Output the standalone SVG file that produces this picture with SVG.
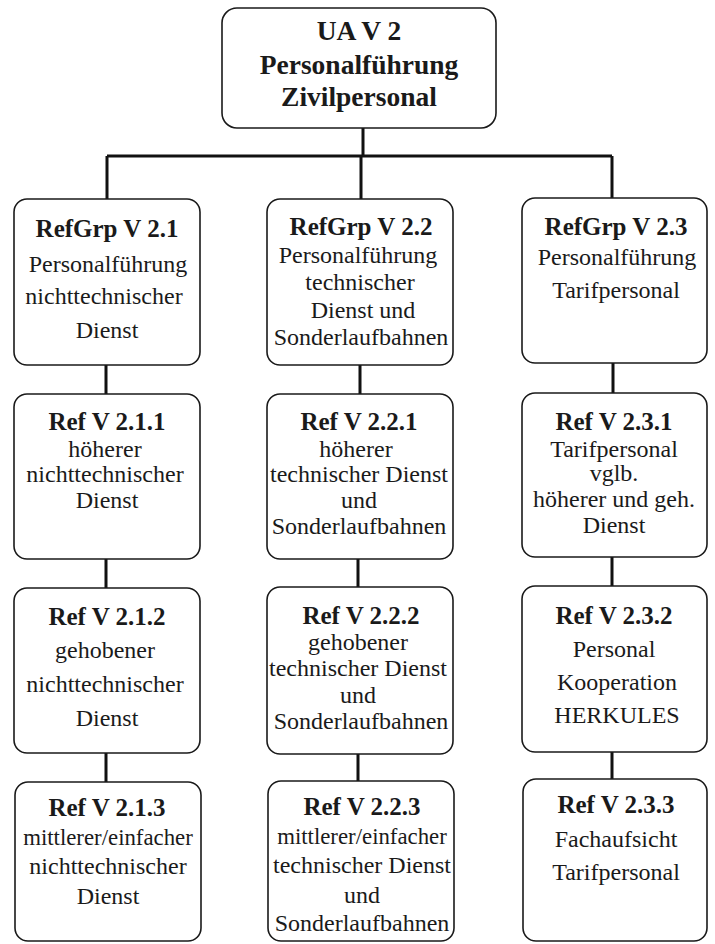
<svg xmlns="http://www.w3.org/2000/svg" width="715" height="944" viewBox="0 0 715 944">
  <style>
    .box { fill: #ffffff; stroke: #1a1a1a; stroke-width: 1.6; }
    .conn { fill: none; stroke: #111111; stroke-width: 3; }
    text { fill: #1a1a1a; text-anchor: middle; }
    .t { font-size: 24px; }
    .n { font-size: 22.8px; }
    .h { font-size: 25px; font-weight: bold; }
    .top { font-size: 27.5px; font-weight: bold; }
  </style>
  <rect width="715" height="944" fill="#ffffff"/>

  <!-- connectors -->
  <g id="connectors">
    <path class="conn" d="M363 128 V156 M107 156 H612 M107 156 V199 M361 156 V199 M612 156 V198"/>
    <path class="conn" d="M106 365 V394 M106 559 V588 M106 753 V782"/>
    <path class="conn" d="M360 365 V394 M358 559 V587 M358 754 V781"/>
    <path class="conn" d="M613 363 V393 M612 557 V586 M612 752 V779"/>
  </g>

  <g id="nodes" font-family="Liberation Serif, Times New Roman, serif">
    <!-- root -->
    <g id="uav2">
      <rect class="box" x="222" y="8" width="274" height="120" rx="15"/>
      <text class="top" x="359" y="40">UA V 2</text>
      <text class="top" x="359" y="74">Personalführung</text>
      <text class="top" x="359" y="106">Zivilpersonal</text>
    </g>

    <!-- column 1 -->
    <g id="refgrp21">
      <rect class="box" x="14" y="199" width="186" height="166" rx="13"/>
      <text class="h" x="107" y="237">RefGrp V 2.1</text>
      <text class="t" x="108" y="272">Personalführung</text>
      <text class="t" x="104" y="304">nichttechnischer</text>
      <text class="t" x="107" y="338">Dienst</text>
    </g>
    <g id="ref211">
      <rect class="box" x="14" y="394" width="186" height="165" rx="13"/>
      <text class="h" x="107" y="430">Ref V 2.1.1</text>
      <text class="t" x="105" y="457">höherer</text>
      <text class="t" x="105" y="482">nichttechnischer</text>
      <text class="t" x="107" y="508">Dienst</text>
    </g>
    <g id="ref212">
      <rect class="box" x="14" y="588" width="186" height="165" rx="13"/>
      <text class="h" x="107" y="625">Ref V 2.1.2</text>
      <text class="t" x="105" y="658">gehobener</text>
      <text class="t" x="105" y="692">nichttechnischer</text>
      <text class="t" x="107" y="726">Dienst</text>
    </g>
    <g id="ref213">
      <rect class="box" x="15" y="782" width="186" height="159" rx="13"/>
      <text class="h" x="107" y="816">Ref V 2.1.3</text>
      <text class="n" x="108" y="845">mittlerer/einfacher</text>
      <text class="t" x="108" y="874">nichttechnischer</text>
      <text class="t" x="108" y="904">Dienst</text>
    </g>

    <!-- column 2 -->
    <g id="refgrp22">
      <rect class="box" x="267" y="199" width="186" height="166" rx="13"/>
      <text class="h" x="361" y="235">RefGrp V 2.2</text>
      <text class="t" x="358" y="263">Personalführung</text>
      <text class="t" x="360" y="290">technischer</text>
      <text class="t" x="363" y="318">Dienst und</text>
      <text class="t" x="361" y="345">Sonderlaufbahnen</text>
    </g>
    <g id="ref221">
      <rect class="box" x="267" y="394" width="186" height="165" rx="13"/>
      <text class="h" x="359" y="430">Ref V 2.2.1</text>
      <text class="t" x="356" y="457">höherer</text>
      <text class="t" x="359" y="482">technischer Dienst</text>
      <text class="t" x="359" y="508">und</text>
      <text class="t" x="359" y="534">Sonderlaufbahnen</text>
    </g>
    <g id="ref222">
      <rect class="box" x="267" y="587" width="186" height="167" rx="13"/>
      <text class="h" x="361" y="624">Ref V 2.2.2</text>
      <text class="t" x="358" y="650">gehobener</text>
      <text class="t" x="358" y="676">technischer Dienst</text>
      <text class="t" x="358" y="703">und</text>
      <text class="t" x="361" y="729">Sonderlaufbahnen</text>
    </g>
    <g id="ref223">
      <rect class="box" x="268" y="781" width="186" height="160" rx="13"/>
      <text class="h" x="362" y="815">Ref V 2.2.3</text>
      <text class="n" x="362" y="844">mittlerer/einfacher</text>
      <text class="t" x="362" y="873">technischer Dienst</text>
      <text class="t" x="362" y="903">und</text>
      <text class="t" x="362" y="931">Sonderlaufbahnen</text>
    </g>

    <!-- column 3 -->
    <g id="refgrp23">
      <rect class="box" x="522" y="198" width="185" height="165" rx="13"/>
      <text class="h" x="616" y="235">RefGrp V 2.3</text>
      <text class="t" x="617" y="265">Personalführung</text>
      <text class="t" x="616" y="298">Tarifpersonal</text>
    </g>
    <g id="ref231">
      <rect class="box" x="522" y="393" width="185" height="164" rx="13"/>
      <text class="h" x="614" y="430">Ref V 2.3.1</text>
      <text class="t" x="614" y="457">Tarifpersonal</text>
      <text class="t" x="614" y="481">vglb.</text>
      <text class="t" x="614" y="507">höherer und geh.</text>
      <text class="t" x="614" y="533">Dienst</text>
    </g>
    <g id="ref232">
      <rect class="box" x="522" y="586" width="185" height="166" rx="13"/>
      <text class="h" x="614" y="624">Ref V 2.3.2</text>
      <text class="t" x="614" y="657">Personal</text>
      <text class="t" x="617" y="690">Kooperation</text>
      <text class="t" x="617" y="723">HERKULES</text>
    </g>
    <g id="ref233">
      <rect class="box" x="523" y="779" width="184" height="162" rx="13"/>
      <text class="h" x="616" y="813">Ref V 2.3.3</text>
      <text class="t" x="616" y="847">Fachaufsicht</text>
      <text class="t" x="616" y="880">Tarifpersonal</text>
    </g>
  </g>
</svg>
